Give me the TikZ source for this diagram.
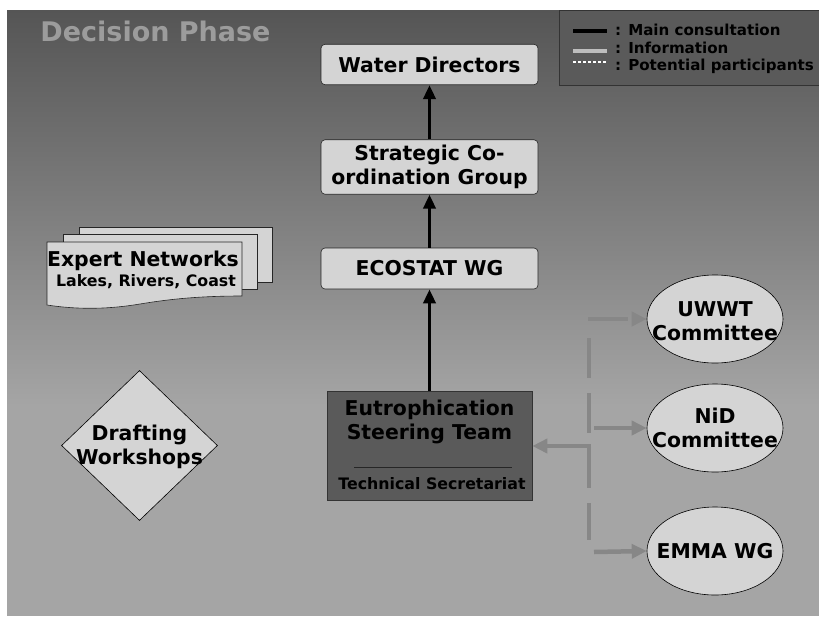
\documentclass[tikz,border=0pt]{standalone}
\usepackage{fontspec}
\setmainfont{DejaVu Sans}
\usetikzlibrary{shapes.geometric,arrows.meta}
\definecolor{bgtop}{HTML}{555555}
\definecolor{bgbot}{HTML}{A5A5A5}
\definecolor{boxfill}{HTML}{D4D4D4}
\definecolor{eutfill}{HTML}{5A5A5A}
\definecolor{infogray}{HTML}{878787}
\definecolor{titlegray}{HTML}{9C9C9C}
\definecolor{leggray}{HTML}{BEBEBE}
\tikzset{
  wbox/.style={rectangle, rounded corners=4pt, draw=black!85, fill=boxfill, line width=0.6pt,
    minimum width=217pt, inner sep=0pt, align=center,
    font=\fontsize{20.4}{23.5}\selectfont\bfseries},
  bigtxt/.style={inner sep=0pt, align=center, font=\fontsize{20.4}{24}\selectfont\bfseries},
  smalltxt/.style={inner sep=0pt, align=center, font=\fontsize{15.8}{18}\selectfont\bfseries},
  legtxt/.style={inner sep=0pt, anchor=west, font=\fontsize{15.1}{17}\selectfont\bfseries},
  oval/.style={ellipse, draw=black, fill=boxfill, line width=0.6pt, minimum width=136pt, minimum height=88pt, inner sep=0pt},
  sheet/.style={draw=black!85, fill=boxfill, line width=0.6pt},
  mainarrow/.style={line width=3.5pt, black, -{Triangle[length=14pt,width=12pt]}},
  infoarrow/.style={line width=4.5pt, infogray, -{Triangle[length=15pt,width=14pt]}},
}
\begin{document}
\begin{tikzpicture}[x=1pt,y=-1pt]
\useasboundingbox (0,0) rectangle (819,616);
\fill[bgbot] (7,405) rectangle (819,616);
\shade[top color=bgtop,bottom color=bgbot] (7,10) rectangle (819,406);

% title
\node[inner sep=0pt, font=\fontsize{27}{30}\selectfont\bfseries, text=titlegray] (title) at (155.5,31) {Decision Phase};

% legend
\node[draw=black!80, fill=eutfill, line width=0.8pt, anchor=north west, minimum width=280pt, minimum height=75pt, inner sep=0pt] (leg) at (559,10) {};
\coordinate (l1a) at (573,31); \coordinate (l1b) at (607,31);
\coordinate (l2a) at (573,51); \coordinate (l2b) at (607,51);
\coordinate (l3a) at (573,62); \coordinate (l3b) at (607,62);
\draw[line width=4pt, black] (l1a) -- (l1b);
\draw[line width=4pt, leggray] (l2a) -- (l2b);
\draw[line width=2pt, white, dash pattern=on 2.5pt off 2.5pt] (l3a) -- (l3b);
\node[legtxt] (lt1) at (615,29.5) {: Main consultation};
\node[legtxt] (lt2) at (615,48) {: Information};
\node[legtxt] (lt3) at (615,66) {: Potential participants};

% main column
\node[wbox, minimum height=40.5pt] (wd) at (429.5,64.5) {Water Directors};
\node[wbox, minimum height=54.5pt] (scg) at (429.5,167) {Strategic Co-\\ordination Group};
\node[wbox, minimum height=41pt] (eco) at (429.5,268.5) {ECOSTAT WG};
\node[rectangle, draw=black!80, fill=eutfill, line width=0.6pt, minimum width=205pt, minimum height=109pt, inner sep=0pt] (eut) at (429.5,445.5) {};
\node[bigtxt] (eutT) at (429.5,422) {Eutrophication\\Steering Team};
\coordinate (sepA) at (354,467); \coordinate (sepB) at (512,467);
\draw[line width=0.8pt, black!85] (sepA) -- (sepB);
\node[smalltxt] (eutS) at (432,484) {Technical Secretariat};

\draw[mainarrow] (scg.north) -- (wd.south);
\draw[mainarrow] (eco.north) -- (scg.south);
\draw[mainarrow] (eut.north) -- (eco.south);

% expert networks
\draw[sheet] (79,227) rectangle (272,282);
\draw[sheet] (63,234) rectangle (257,289);
\draw[sheet] (47,242) -- (242,242) -- (242,296) .. controls (200,296) and (170,299) .. (140,304)
  .. controls (110,309) and (80,310) .. (47,305) -- cycle;
\node[bigtxt] (expT) at (143,261) {Expert Networks};
\node[smalltxt] (expS) at (146,282) {Lakes, Rivers, Coast};

% drafting workshops
\node[diamond, draw=black, fill=boxfill, line width=0.6pt, minimum width=156pt, minimum height=150pt, inner sep=0pt] (dw) at (139.5,445.5) {};
\node[bigtxt] (dwT) at (139.5,447) {Drafting\\Workshops};

% committees
\node[oval] (uwwt) at (715,319) {};
\node[bigtxt] (uwwtT) at (715,321) {UWWT\\Committee};
\node[oval] (nid) at (715,428) {};
\node[bigtxt] (nidT) at (715,428) {NiD\\Committee};
\node[oval] (emma) at (715,551) {};
\node[bigtxt] (emmaT) at (715,551) {EMMA WG};

% information connectors
\coordinate (vt) at (589,338);
\coordinate (vb) at (589,540);
\coordinate (ju) at (588,319);
\coordinate (jn) at (594,428);
\coordinate (je) at (594,552);
\coordinate (jl) at (591,446);
\draw[line width=4.5pt, infogray, dash pattern=on 40pt off 15pt] (vt) -- (vb);
\draw[infoarrow, dash pattern=on 40pt off 10pt] (ju) -- (uwwt.west);
\draw[infoarrow] (jn) -- (nid.west);
\draw[infoarrow] (je) -- (emma.west);
\draw[infoarrow] (jl) -- (eut.east |- jl);
\end{tikzpicture}
\end{document}
